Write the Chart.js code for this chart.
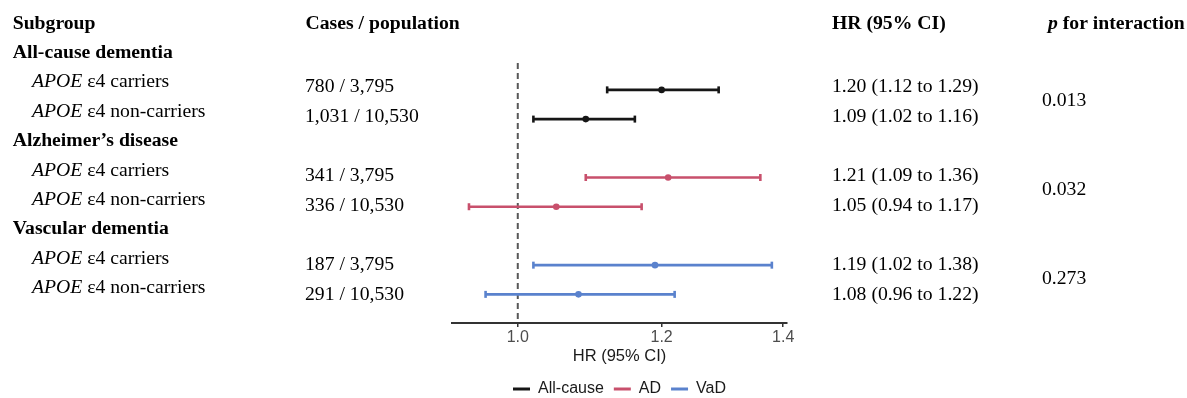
<!DOCTYPE html>
<html><head><meta charset="utf-8">
<script src="https://cdn.jsdelivr.net/npm/chart.js@4.4.0/dist/chart.umd.min.js"></script>
<style>html,body{margin:0;padding:0;background:#fff;}canvas{display:block;}</style>
</head><body>
<canvas id="c" width="1187" height="398"></canvas>
<script>
// ---- data ----
const headers = ['Subgroup', 'Cases / population', 'HR (95% CI)', 'for interaction'];
const groups = ['All-cause dementia', 'Alzheimer\u2019s disease', 'Vascular dementia'];
const legendLabels = ['All-cause', 'AD', 'VaD'];
const subgroups = ['\u03b54 carriers', '\u03b54 non-carriers'];
const cases = ['780 / 3,795', '1,031 / 10,530', '341 / 3,795', '336 / 10,530', '187 / 3,795', '291 / 10,530'];
const hr = [1.20, 1.09, 1.21, 1.05, 1.19, 1.08];
const lo = [1.12, 1.02, 1.09, 0.94, 1.02, 0.96];
const hi = [1.29, 1.16, 1.36, 1.17, 1.38, 1.22];
const pInteraction = ['0.013', '0.032', '0.273'];
const xTicks = [1.0, 1.2, 1.4];
const refValue = 1.0;

// ---- layout / style ----
const colors = ['#161616', '#c8506c', '#5a82cd'];
const Y_MIN = 1.08, Y_MAX = 9.98;
const SERIF = '"Liberation Serif", "Times New Roman", serif';
const SANS = '"Liberation Sans", Arial, sans-serif';
const FS = 19.7;
const LEGEND_H = 27;
const rowOf = i => 2 + 3 * Math.floor(i / 2) + (i % 2);

// x range: data range on log scale with 5% expansion
const lmin = Math.log(Math.min(...lo)), lmax = Math.log(Math.max(...hi));
const ext = (lmax - lmin) * 0.05;
const X_MIN = Math.exp(lmin - ext), X_MAX = Math.exp(lmax + ext);

const datasets = [];
datasets.push({
  type: 'line', label: 'ref', isRef: true, order: 10,
  data: [{x: refValue, y: Y_MIN}, {x: refValue, y: Y_MAX}],
  borderColor: '#585858', borderWidth: 2, borderDash: [6, 4], pointRadius: 0
});
groups.forEach((g, gi) => {
  const data = [];
  [0, 1].forEach(k => {
    const i = gi * 2 + k, r = rowOf(i);
    data.push({x: lo[i], y: r}, {x: hi[i], y: r}, {x: null, y: null});
  });
  datasets.push({
    type: 'line', label: legendLabels[gi], isCI: true, order: 0, data,
    borderColor: colors[gi], backgroundColor: colors[gi], borderWidth: 2.6,
    pointStyle: 'line', rotation: 90, pointRadius: 3.5, pointBorderWidth: 2.6,
    pointBorderColor: colors[gi], pointBackgroundColor: colors[gi], spanGaps: false
  });
  datasets.push({
    type: 'scatter', label: legendLabels[gi] + ' HR', order: -1,
    data: [0, 1].map(k => ({x: hr[gi * 2 + k], y: rowOf(gi * 2 + k)})),
    backgroundColor: colors[gi], borderColor: colors[gi], pointRadius: 3.3, pointBorderWidth: 0
  });
});

const legendFix = {
  id: 'legendFix',
  beforeInit(chart) {
    const lg = chart.legend;
    if (!lg) return;
    const f = lg.fit;
    lg.fit = function () { f.call(this); this.height = LEGEND_H; };
  }
};

const tablePlugin = {
  id: 'table',
  afterDraw(chart) {
    const ctx = chart.ctx;
    const ys = chart.scales.y;
    const pix = r => ys.getPixelForValue(r);
    const leftY = r => pix(r) - 7.8 + 0.21 * (r - 1);
    const colY = r => pix(r) - 3 + 0.45 * (r - 2);
    ctx.save();
    ctx.fillStyle = '#000';
    ctx.textBaseline = 'middle';
    ctx.textAlign = 'left';
    const bold = `bold ${FS}px ${SERIF}`, reg = `${FS}px ${SERIF}`, ital = `italic ${FS}px ${SERIF}`;
    const hy = leftY(0);
    // headers
    ctx.font = bold;
    ctx.fillText(headers[0], 12.7, hy);
    ctx.fillText(headers[1], 305.5, hy);
    ctx.fillText(headers[2], 832, hy);
    ctx.font = `italic bold ${FS}px ${SERIF}`;
    ctx.fillText('p', 1048, hy);
    const pw = ctx.measureText('p ').width;
    ctx.font = bold;
    ctx.fillText(headers[3], 1048 + pw, hy);
    groups.forEach((g, gi) => {
      ctx.font = bold;
      ctx.fillText(g, 12.7, leftY(1 + 3 * gi));
      [0, 1].forEach(k => {
        const i = gi * 2 + k, r = rowOf(i);
        ctx.font = ital;
        ctx.fillText('APOE', 32, leftY(r));
        const w = ctx.measureText('APOE').width;
        ctx.font = reg;
        ctx.fillText(' ' + subgroups[k], 32 + w, leftY(r));
        ctx.fillText(cases[i], 305, colY(r));
        ctx.fillText(`${hr[i].toFixed(2)} (${lo[i].toFixed(2)} to ${hi[i].toFixed(2)})`, 832, colY(r));
      });
      ctx.font = reg;
      ctx.fillText(pInteraction[gi], 1042, (colY(rowOf(gi * 2)) + colY(rowOf(gi * 2 + 1))) / 2 - 0.5);
    });
    ctx.restore();
  }
};

new Chart(document.getElementById('c'), {
  data: {datasets},
  options: {
    responsive: false, animation: false, devicePixelRatio: 1,
    layout: {padding: {left: 452, right: 400, top: 63, bottom: 0}},
    plugins: {
      tooltip: {enabled: false},
      legend: {
        display: true, position: 'bottom',
        labels: {
          boxWidth: 17, boxHeight: 3, padding: 10, color: '#1a1a1a',
          font: {family: SANS, size: 16},
          generateLabels(chart) {
            const items = Chart.defaults.plugins.legend.labels.generateLabels(chart);
            return items.filter(it => chart.data.datasets[it.datasetIndex].isCI)
              .map(it => Object.assign(it, {fillStyle: it.strokeStyle, lineWidth: 0}));
          }
        }
      }
    },
    scales: {
      x: {
        type: 'logarithmic', min: X_MIN, max: X_MAX,
        afterBuildTicks: s => { s.ticks = xTicks.map(v => ({value: v})); },
        ticks: {
          callback: v => Number(v).toFixed(1), autoSkip: false, maxRotation: 0,
          font: {family: SANS, size: 16}, color: '#4d4d4d', padding: 1
        },
        grid: {display: true, drawOnChartArea: false, drawTicks: true, tickLength: 4, color: '#333', lineWidth: 1.5},
        border: {display: true, color: '#333', width: 2},
        title: {display: true, text: 'HR (95% CI)', color: '#1a1a1a',
          font: {family: SANS, size: 16.5, lineHeight: 1}, padding: {top: 0, bottom: 6.3}}
      },
      y: {type: 'linear', min: Y_MIN, max: Y_MAX, reverse: true, display: false}
    }
  },
  plugins: [legendFix, tablePlugin]
});
</script>
</body></html>
